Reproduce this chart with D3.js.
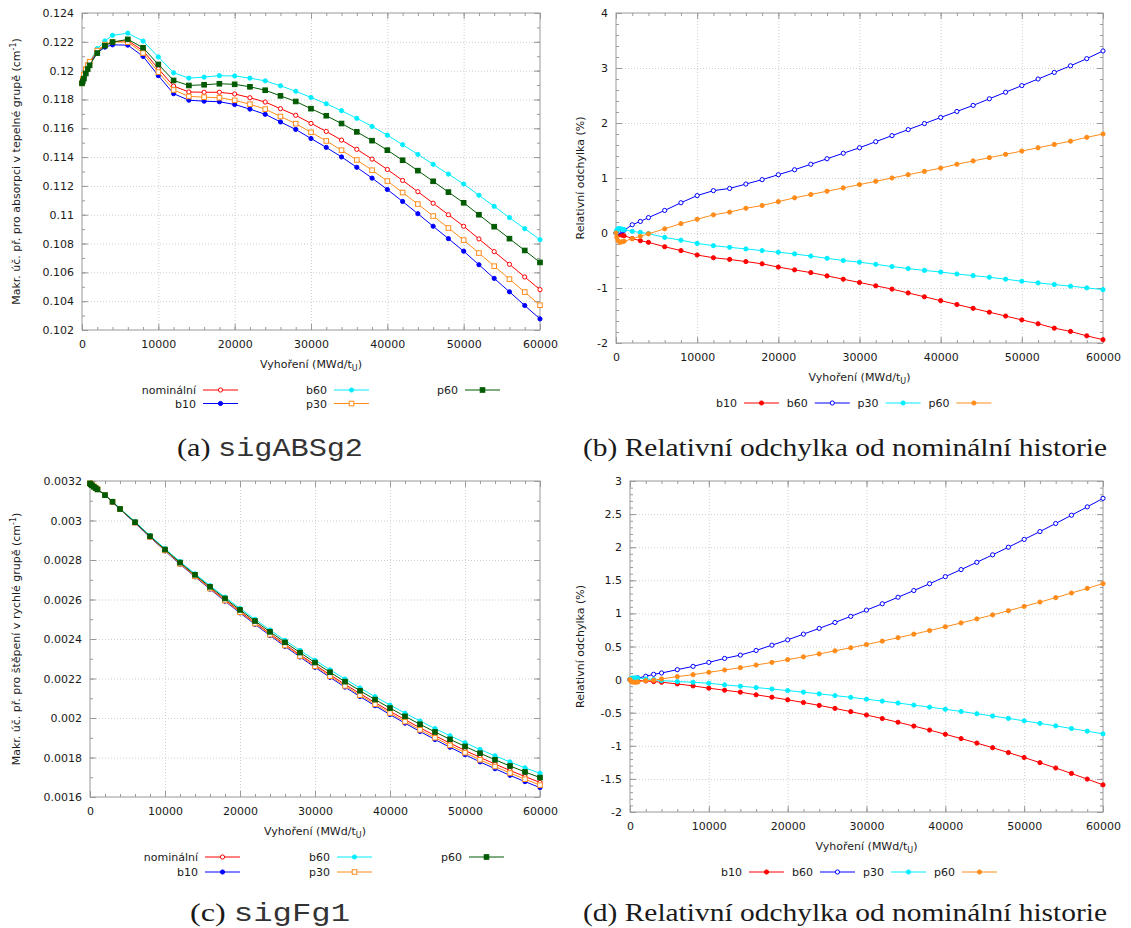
<!DOCTYPE html>
<html>
<head>
<meta charset="utf-8">
<script src="https://cdn.jsdelivr.net/npm/d3@7"></script>
<style>
  body { margin: 0; background: #fff; }
  text { font-family: "DejaVu Sans", sans-serif; fill: #1a1a1a; }
</style>
</head>
<body>
<svg id="fig" width="1131" height="928"></svg>
<script>
// burnup steps (MWd/tU)
var burnup = [0, 100, 250, 500, 750, 1000, 2000, 3000, 4000, 6000, 8000, 10000, 12000, 14000, 16000, 18000,
  20000, 22000, 24000, 26000, 28000, 30000, 32000, 34000, 36000, 38000, 40000, 42000, 44000, 46000, 48000,
  50000, 52000, 54000, 56000, 58000, 60000];

var xTicks = [0, 10000, 20000, 30000, 40000, 50000, 60000];

// (a) sigABSg2
var absNominal = [0.11912, 0.11935, 0.11962, 0.12000, 0.12030, 0.12055, 0.12135, 0.12180, 0.12200, 0.12208, 0.12138, 0.12013, 0.11893, 0.11852, 0.11850, 0.11850, 0.11838, 0.11812, 0.11782, 0.11736, 0.11690, 0.11634, 0.11578, 0.11518, 0.11454, 0.11386, 0.11314, 0.11238, 0.11160, 0.11080, 0.11000, 0.10920, 0.10832, 0.10744, 0.10656, 0.10568, 0.10480];
var absB10 = [0.11912, 0.11934, 0.11958, 0.11996, 0.12025, 0.12049, 0.12123, 0.12163, 0.12179, 0.12177, 0.12099, 0.11965, 0.11840, 0.11795, 0.11788, 0.11784, 0.11765, 0.11733, 0.11697, 0.11644, 0.11592, 0.11529, 0.11467, 0.11401, 0.11329, 0.11254, 0.11175, 0.11092, 0.11007, 0.10920, 0.10834, 0.10747, 0.10653, 0.10558, 0.10465, 0.10370, 0.10277];
var absB60 = [0.11912, 0.11936, 0.11965, 0.12004, 0.12035, 0.12061, 0.12153, 0.12206, 0.12245, 0.12260, 0.12205, 0.12095, 0.11985, 0.11948, 0.11955, 0.11965, 0.11963, 0.11948, 0.11929, 0.11895, 0.11857, 0.11814, 0.11770, 0.11722, 0.11669, 0.11613, 0.11552, 0.11486, 0.11419, 0.11350, 0.11282, 0.11213, 0.11135, 0.11058, 0.10980, 0.10903, 0.10827];
var absP30 = [0.11912, 0.11941, 0.11972, 0.12010, 0.12038, 0.12062, 0.12139, 0.12181, 0.12199, 0.12198, 0.12122, 0.11990, 0.11866, 0.11821, 0.11816, 0.11812, 0.11794, 0.11767, 0.11733, 0.11682, 0.11632, 0.11572, 0.11512, 0.11448, 0.11380, 0.11309, 0.11234, 0.11154, 0.11074, 0.10991, 0.10908, 0.10824, 0.10734, 0.10643, 0.10553, 0.10463, 0.10372];
var absP60 = [0.11912, 0.11926, 0.11945, 0.11980, 0.12011, 0.12037, 0.12122, 0.12173, 0.12198, 0.12217, 0.12159, 0.12043, 0.11932, 0.11897, 0.11902, 0.11909, 0.11905, 0.11888, 0.11864, 0.11825, 0.11786, 0.11736, 0.11687, 0.11633, 0.11575, 0.11514, 0.11448, 0.11378, 0.11306, 0.11232, 0.11157, 0.11083, 0.11000, 0.10917, 0.10834, 0.10752, 0.10669];

// (b) relative deviation of sigABSg2 (%)
var devAbsB10 = [0, -0.01, -0.03, -0.03, -0.04, -0.05, -0.10, -0.14, -0.17, -0.25, -0.32, -0.40, -0.45, -0.48, -0.52, -0.56, -0.62, -0.67, -0.72, -0.78, -0.84, -0.90, -0.96, -1.02, -1.09, -1.16, -1.23, -1.30, -1.37, -1.44, -1.51, -1.58, -1.65, -1.73, -1.79, -1.87, -1.94];
var devAbsB60 = [0, 0.01, 0.02, 0.03, 0.04, 0.05, 0.15, 0.21, 0.28, 0.41, 0.55, 0.68, 0.77, 0.81, 0.89, 0.97, 1.06, 1.15, 1.25, 1.35, 1.45, 1.55, 1.66, 1.77, 1.88, 1.99, 2.10, 2.21, 2.32, 2.44, 2.56, 2.68, 2.80, 2.92, 3.04, 3.17, 3.31];
var devAbsP30 = [0, 0.05, 0.08, 0.08, 0.07, 0.06, 0.03, 0.01, -0.01, -0.08, -0.13, -0.19, -0.23, -0.26, -0.29, -0.32, -0.35, -0.38, -0.42, -0.46, -0.50, -0.53, -0.57, -0.61, -0.647, -0.68, -0.71, -0.745, -0.775, -0.805, -0.84, -0.877, -0.907, -0.937, -0.967, -0.998, -1.03];
var devAbsP60 = [0, -0.08, -0.14, -0.17, -0.16, -0.15, -0.105, -0.06, -0.015, 0.076, 0.17, 0.25, 0.33, 0.38, 0.45, 0.50, 0.57, 0.64, 0.70, 0.76, 0.82, 0.88, 0.94, 1.00, 1.06, 1.12, 1.18, 1.25, 1.31, 1.37, 1.43, 1.49, 1.55, 1.61, 1.67, 1.74, 1.80];

// (c) sigFg1
var fisNominal = [0.003188, 0.003184, 0.003179, 0.003172, 0.003165, 0.003158, 0.003129, 0.003095, 0.003058, 0.002990, 0.002918, 0.002850, 0.002783, 0.002720, 0.0026585, 0.0025984, 0.0025398, 0.0024827, 0.002427, 0.0023728, 0.00232, 0.0022687, 0.0022188, 0.0021704, 0.0021235, 0.002078, 0.002034, 0.0019914, 0.0019503, 0.0019107, 0.0018725, 0.0018358, 0.0018005, 0.0017667, 0.0017343, 0.0017034, 0.001674];
var fisB10 = [0.003188, 0.003184, 0.003179, 0.003172, 0.003165, 0.003157, 0.0031284, 0.0030941, 0.0030568, 0.0029881, 0.0029152, 0.0028463, 0.0027785, 0.0027148, 0.0026524, 0.0025915, 0.002532, 0.0024741, 0.0024175, 0.0023625, 0.0023088, 0.0022566, 0.0022058, 0.0021564, 0.0021086, 0.0020622, 0.0020172, 0.0019737, 0.0019316, 0.001891, 0.0018519, 0.0018142, 0.0017779, 0.0017431, 0.0017097, 0.0016778, 0.0016474];
var fisB60 = [0.003188, 0.003184, 0.003179, 0.003172, 0.003166, 0.003159, 0.0031306, 0.0030975, 0.0030611, 0.0029945, 0.0029238, 0.0028574, 0.0027919, 0.0027301, 0.0026702, 0.0026119, 0.002555, 0.0024998, 0.0024458, 0.0023933, 0.0023422, 0.0022925, 0.0022442, 0.0021974, 0.0021521, 0.0021081, 0.0020656, 0.0020245, 0.0019849, 0.0019467, 0.00191, 0.0018747, 0.0018408, 0.0018084, 0.0017774, 0.0017478, 0.0017198];
var fisP30 = [0.003188, 0.003184, 0.003180, 0.003173, 0.003166, 0.003159, 0.0031293, 0.003095, 0.0030575, 0.0029891, 0.0029168, 0.0028484, 0.0027808, 0.0027173, 0.0026553, 0.0025947, 0.0025356, 0.002478, 0.0024218, 0.0023671, 0.0023138, 0.002262, 0.0022116, 0.0021627, 0.0021153, 0.0020694, 0.0020249, 0.0019818, 0.0019402, 0.0019002, 0.0018615, 0.0018244, 0.0017886, 0.0017544, 0.0017215, 0.0016901, 0.0016603];
var fisP60 = [0.003188, 0.003183, 0.003178, 0.003171, 0.003164, 0.003157, 0.0031285, 0.0030947, 0.0030583, 0.0029913, 0.0029202, 0.0028531, 0.002787, 0.0027249, 0.0026643, 0.0026052, 0.0025474, 0.0024912, 0.0024364, 0.0023831, 0.0023312, 0.0022807, 0.0022317, 0.0021841, 0.002138, 0.0020934, 0.0020502, 0.0020084, 0.0019682, 0.0019294, 0.001892, 0.0018561, 0.0018216, 0.0017886, 0.001757, 0.0017269, 0.0016983];

// (d) relative deviation of sigFg1 (%)
var devFisB10 = [0, -0.005, -0.01, -0.012, -0.015, -0.017, -0.02, -0.03, -0.04, -0.065, -0.095, -0.13, -0.16, -0.19, -0.23, -0.266, -0.305, -0.346, -0.39, -0.435, -0.484, -0.535, -0.588, -0.644, -0.702, -0.762, -0.826, -0.891, -0.959, -1.029, -1.102, -1.177, -1.255, -1.335, -1.418, -1.503, -1.59];
var devFisB60 = [0, 0.005, 0.01, 0.015, 0.02, 0.025, 0.05, 0.08, 0.10, 0.15, 0.20, 0.26, 0.32, 0.37, 0.44, 0.52, 0.60, 0.687, 0.774, 0.863, 0.955, 1.05, 1.145, 1.244, 1.345, 1.448, 1.555, 1.662, 1.772, 1.885, 2.0, 2.118, 2.236, 2.358, 2.483, 2.609, 2.738];
var devFisP30 = [0, 0.015, 0.022, 0.025, 0.024, 0.022, 0.01, 0.0, -0.015, -0.03, -0.04, -0.055, -0.08, -0.10, -0.12, -0.142, -0.166, -0.19, -0.215, -0.241, -0.268, -0.296, -0.325, -0.354, -0.385, -0.416, -0.448, -0.481, -0.516, -0.55, -0.586, -0.623, -0.661, -0.699, -0.739, -0.779, -0.82];
var devFisP60 = [0, -0.02, -0.035, -0.04, -0.04, -0.035, -0.015, -0.01, 0.01, 0.045, 0.075, 0.11, 0.145, 0.18, 0.22, 0.26, 0.301, 0.344, 0.388, 0.434, 0.481, 0.53, 0.581, 0.633, 0.686, 0.741, 0.798, 0.856, 0.916, 0.977, 1.04, 1.105, 1.171, 1.238, 1.308, 1.378, 1.45];

var absTicks = [0.102, 0.104, 0.106, 0.108, 0.11, 0.112, 0.114, 0.116, 0.118, 0.12, 0.122, 0.124];
var devAbsTicks = [-2, -1, 0, 1, 2, 3, 4];
var fisTicks = [0.0016, 0.0018, 0.002, 0.0022, 0.0024, 0.0026, 0.0028, 0.003, 0.0032];
var devFisTicks = [-2, -1.5, -1, -0.5, 0, 0.5, 1, 1.5, 2, 2.5, 3];

var svg = d3.select("#fig");
svg.append("rect").attr("width", 1131).attr("height", 928).attr("fill", "#fff");

var borderColor = "#9a9a9a";
var fmt = function(d) { return String(+d.toPrecision(6)); };

function drawMarker(g, type, color, cx, cy) {
  if (type === "circle" || type === "ring") {
    g.append("circle").attr("cx", cx).attr("cy", cy).attr("r", 2.1)
      .attr("fill", type === "ring" ? "#fff" : color)
      .attr("stroke", color).attr("stroke-width", 1);
  } else {
    g.append("rect").attr("x", cx - 2.3).attr("y", cy - 2.3).attr("width", 4.6).attr("height", 4.6)
      .attr("fill", type === "box" ? "#fff" : color)
      .attr("stroke", color).attr("stroke-width", 1);
  }
}

function drawPanel(p) {
  var g = svg.append("g");
  var x = d3.scaleLinear().domain([0, 60000]).range([p.left, p.right]);
  var y = d3.scaleLinear().domain(p.yDomain).range([p.bottom, p.top]);
  var h = p.bottom - p.top, w = p.right - p.left;

  // dotted grid
  g.append("g").attr("transform", "translate(0," + p.bottom + ")")
    .call(d3.axisBottom(x).tickValues(xTicks.slice(1, -1)).tickSize(-h).tickFormat(""))
    .call(function(s) { s.select(".domain").remove(); })
    .selectAll("line").attr("stroke", "#cfcfcf").attr("stroke-dasharray", "1,2");
  g.append("g").attr("transform", "translate(" + p.left + ",0)")
    .call(d3.axisLeft(y).tickValues(p.yTicks.slice(1, -1)).tickSize(-w).tickFormat(""))
    .call(function(s) { s.select(".domain").remove(); })
    .selectAll("line").attr("stroke", "#cfcfcf").attr("stroke-dasharray", "1,2");

  // ticks on all four sides, pointing inward
  var xMinor = d3.range(0, 60001, 2000);
  var yMinor = d3.range(p.yDomain[0], p.yDomain[1] + p.yMinor / 2, p.yMinor);
  var axes = [
    [d3.axisBottom(x), "translate(0," + p.bottom + ")", xMinor, xTicks],
    [d3.axisTop(x), "translate(0," + p.top + ")", xMinor, xTicks],
    [d3.axisLeft(y), "translate(" + p.left + ",0)", yMinor, p.yTicks],
    [d3.axisRight(y), "translate(" + p.right + ",0)", yMinor, p.yTicks]
  ];
  axes.forEach(function(a) {
    g.append("g").attr("transform", a[1])
      .call(a[0].tickValues(a[2]).tickSizeInner(-3).tickSizeOuter(0).tickFormat(""))
      .call(function(s) { s.select(".domain").remove(); })
      .selectAll("line").attr("stroke", borderColor);
    g.append("g").attr("transform", a[1])
      .call(a[0].tickValues(a[3]).tickSizeInner(-6).tickSizeOuter(0).tickFormat(""))
      .call(function(s) { s.select(".domain").remove(); })
      .selectAll("line").attr("stroke", borderColor);
  });

  g.append("rect").attr("x", p.left).attr("y", p.top).attr("width", w).attr("height", h)
    .attr("fill", "none").attr("stroke", borderColor).attr("stroke-width", 1);

  // tick labels
  var xl = g.append("g").attr("transform", "translate(0," + p.bottom + ")")
    .call(d3.axisBottom(x).tickValues(xTicks).tickSize(0).tickPadding(10).tickFormat(fmt));
  xl.select(".domain").remove();
  xl.selectAll("text").attr("font-family", "DejaVu Sans").attr("font-size", 11).attr("fill", "#1a1a1a");
  var yl = g.append("g").attr("transform", "translate(" + p.left + ",0)")
    .call(d3.axisLeft(y).tickValues(p.yTicks).tickSize(0).tickPadding(8).tickFormat(fmt));
  yl.select(".domain").remove();
  yl.selectAll("text").attr("font-family", "DejaVu Sans").attr("font-size", 11).attr("fill", "#1a1a1a");

  // axis titles
  var xt = g.append("text").attr("x", (p.left + p.right) / 2).attr("y", p.bottom + 38)
    .attr("text-anchor", "middle").attr("font-size", 11);
  xt.append("tspan").text("Vyhoření (MWd/t");
  xt.append("tspan").attr("font-size", 8).attr("dy", 3).text("U");
  xt.append("tspan").attr("dy", -3).text(")");

  var yt = g.append("text").attr("transform", "translate(" + p.yTitleX + "," + (p.top + p.bottom) / 2 + ") rotate(-90)")
    .attr("text-anchor", "middle").attr("font-size", 11);
  yt.append("tspan").text(p.yTitle);
  if (p.yTitleSup) {
    yt.append("tspan").attr("font-size", 8).attr("dy", -4).text("-1");
    yt.append("tspan").attr("dy", 4).text(")");
  }

  // series
  var line = d3.line().x(function(d) { return x(d[0]); }).y(function(d) { return y(d[1]); });
  p.series.forEach(function(s) {
    var pts = burnup.map(function(b, i) { return [b, s.values[i]]; });
    g.append("path").datum(pts).attr("d", line).attr("fill", "none")
      .attr("stroke", s.color).attr("stroke-width", 1);
    var mg = g.append("g");
    pts.forEach(function(d) { drawMarker(mg, s.marker, s.color, x(d[0]), y(d[1])); });
  });

  // legend
  p.series.forEach(function(s, i) {
    var pos = p.legendPos(i);
    g.append("text").attr("x", pos[0]).attr("y", pos[1] + 4).attr("text-anchor", "end")
      .attr("font-size", 11).text(s.name);
    g.append("line").attr("x1", pos[0] + 7).attr("x2", pos[0] + 42).attr("y1", pos[1]).attr("y2", pos[1])
      .attr("stroke", s.color).attr("stroke-width", 1);
    drawMarker(g, s.marker, s.color, pos[0] + 24.5, pos[1]);
  });
}

var red = "#ff0000", blue = "#0000ff", cyan = "#00eeff", orange = "#ff8c1a", green = "#005a00";

drawPanel({
  left: 82, right: 540, top: 13, bottom: 330,
  yDomain: [0.102, 0.124], yTicks: absTicks, yMinor: 0.001,
  yTitle: "Makr. úč. př. pro absorpci v tepelné grupě (cm", yTitleSup: true, yTitleX: 20,
  series: [
    { name: "nominální", values: absNominal, color: red, marker: "ring" },
    { name: "b10", values: absB10, color: blue, marker: "circle" },
    { name: "b60", values: absB60, color: cyan, marker: "circle" },
    { name: "p30", values: absP30, color: orange, marker: "box" },
    { name: "p60", values: absP60, color: green, marker: "square" }
  ],
  legendPos: function(i) { return [196 + Math.floor(i / 2) * 131, 390 + (i % 2) * 13.5]; }
});

drawPanel({
  left: 616, right: 1103, top: 13, bottom: 343,
  yDomain: [-2, 4], yTicks: devAbsTicks, yMinor: 0.2,
  yTitle: "Relativní odchylka (%)", yTitleSup: false, yTitleX: 584,
  series: [
    { name: "b10", values: devAbsB10, color: red, marker: "circle" },
    { name: "b60", values: devAbsB60, color: blue, marker: "ring" },
    { name: "p30", values: devAbsP30, color: cyan, marker: "circle" },
    { name: "p60", values: devAbsP60, color: orange, marker: "circle" }
  ],
  legendPos: function(i) { return [737 + i * 70.8, 403]; }
});

drawPanel({
  left: 90, right: 540, top: 481, bottom: 797,
  yDomain: [0.0016, 0.0032], yTicks: fisTicks, yMinor: 0.0001,
  yTitle: "Makr. úč. př. pro štěpení v rychlé grupě (cm", yTitleSup: true, yTitleX: 20,
  series: [
    { name: "nominální", values: fisNominal, color: red, marker: "ring" },
    { name: "b10", values: fisB10, color: blue, marker: "circle" },
    { name: "b60", values: fisB60, color: cyan, marker: "circle" },
    { name: "p30", values: fisP30, color: orange, marker: "box" },
    { name: "p60", values: fisP60, color: green, marker: "square" }
  ],
  legendPos: function(i) { return [198 + Math.floor(i / 2) * 132, 857 + (i % 2) * 15]; }
});

drawPanel({
  left: 630, right: 1103, top: 481, bottom: 812,
  yDomain: [-2, 3], yTicks: devFisTicks, yMinor: 0.1,
  yTitle: "Relativní odchylka (%)", yTitleSup: false, yTitleX: 584,
  series: [
    { name: "b10", values: devFisB10, color: red, marker: "circle" },
    { name: "b60", values: devFisB60, color: blue, marker: "ring" },
    { name: "p30", values: devFisP30, color: cyan, marker: "circle" },
    { name: "p60", values: devFisP60, color: orange, marker: "circle" }
  ],
  legendPos: function(i) { return [742 + i * 71, 872]; }
});

// sub-figure captions
function caption(cx, cy, width, label, mono) {
  var t = svg.append("text").attr("x", cx).attr("y", cy).attr("text-anchor", "middle")
    .attr("font-size", 25).attr("textLength", width).attr("lengthAdjust", "spacingAndGlyphs")
    .style("font-family", "'Liberation Serif', serif");
  t.append("tspan").text(label);
  if (mono) t.append("tspan").style("font-family", "'Liberation Mono', monospace")
    .style("font-weight", 300).attr("fill", "#333").text(mono);
  return t;
}
caption(270, 456, 186, "(a) ", "sigABSg2");
caption(845, 456, 524, "(b) Relativní odchylka od nominální historie");
caption(270, 921, 160, "(c) ", "sigFg1");
caption(845, 921, 524, "(d) Relativní odchylka od nominální historie");
</script>
</body>
</html>
